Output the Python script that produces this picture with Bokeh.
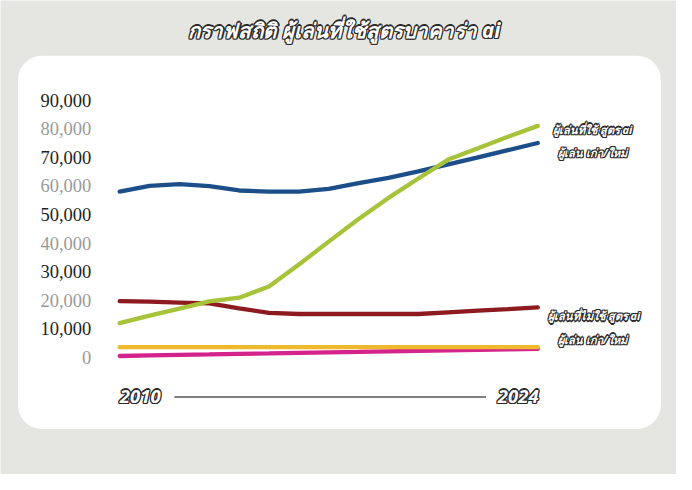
from bokeh.plotting import figure
from bokeh.models import Range1d, Label, LabelSet, ColumnDataSource, BoxAnnotation
from bokeh.core.properties import value
from bokeh.embed import file_html
from bokeh.resources import INLINE

# ---------------- data ----------------
years = [2010, 2011, 2012, 2013, 2014, 2015, 2016, 2017, 2018, 2019, 2020, 2021, 2022, 2023, 2024]
blue_vals = [58000, 60000, 60600, 59900, 58400, 58000, 58000, 59000, 61000, 62800, 65100, 67500, 70000, 72500, 75000]
green_vals = [12000, 14600, 17100, 19600, 20900, 24800, 32500, 40500, 48400, 55800, 62600, 69200, 73200, 77200, 81000]
red_vals = [19700, 19500, 19200, 18900, 17200, 15600, 15200, 15200, 15200, 15200, 15200, 15800, 16400, 16900, 17500]
yellow_vals = [3600, 3600, 3600, 3600, 3600, 3600, 3600, 3600, 3600, 3600, 3600, 3600, 3600, 3600, 3600]
pink_vals = [500, 700, 900, 1050, 1250, 1400, 1600, 1800, 1950, 2150, 2350, 2500, 2700, 2850, 3000]

y_ticks = [0, 10000, 20000, 30000, 40000, 50000, 60000, 70000, 80000, 90000]
y_tick_labels = ["0", "10,000", "20,000", "30,000", "40,000", "50,000", "60,000", "70,000", "80,000", "90,000"]

title_text = "กราฟสถิติ ผู้เล่นที่ใช้สูตรบาคาร่า ai"
label_used = ["ผู้เล่นที่ใช้ สูตร ai", "ผู้เล่น เก่า/ใหม่"]
label_not_used = ["ผู้เล่นที่ไม่ใช้  สูตร ai", "ผู้เล่น เก่า/ใหม่"]
start_label = "2010"
end_label = "2024"

# ---------------- layout helpers (reference pixel -> data) ----------------
W, H = 676, 474
PX_PER_YEAR = (550 - 122) / 14.0
PX_PER_UNIT = (369 - 103) / 90000.0


def dx(X):
    return 2010 + (X - 122) / PX_PER_YEAR


def dy(Y):
    return (369 - Y) / PX_PER_UNIT


p = figure(width=W, height=H, output_backend="svg", toolbar_location=None,
           x_axis_type=None, y_axis_type=None, min_border=0,
           x_range=Range1d(dx(0), dx(692)), y_range=Range1d(dy(490), dy(0)))
p.background_fill_color = "#e5e6e2"
p.border_fill_color = "#e5e6e2"
p.outline_line_color = None
p.xgrid.visible = False
p.ygrid.visible = False

# white rounded panel
panel = BoxAnnotation(left=dx(18), right=dx(676), top=dy(57), bottom=dy(443),
                      fill_color="white", fill_alpha=1.0, line_alpha=0,
                      border_radius=24, level="underlay")
p.add_layout(panel)

# lines
LW = 4.3
p.line(years, pink_vals, line_color="#d4238b", line_width=LW, line_cap="round")
p.line(years, yellow_vals, line_color="#efb92e", line_width=LW, line_cap="round")
p.line(years, red_vals, line_color="#8c1a1f", line_width=LW, line_cap="round")
p.line(years, blue_vals, line_color="#1c4e8a", line_width=LW, line_cap="round")
p.line(years, green_vals, line_color="#a6c33a", line_width=LW, line_cap="round")

# y tick labels (alternating colours)
tick_colors = ["#9a9a9a" if i % 2 == 0 else "#1e1e1e" for i in range(len(y_ticks))]
tick_src = ColumnDataSource(dict(y=y_ticks, text=y_tick_labels, c=tick_colors,
                                 x=[dx(93)] * len(y_ticks)))
p.add_layout(LabelSet(x="x", y="y", text="text", source=tick_src, text_color="c",
                      text_align="right", text_baseline="middle",
                      text_font=value("Liberation Serif"), text_font_size="18.5px"))


def outlined(text, X, Y, size, align="center", font="Noto Sans"):
    offs = [(-1.2, 0), (1.2, 0), (0, -1.2), (0, 1.2), (-1, -1), (1, 1), (-1, 1), (1, -1)]
    for ox, oy in offs:
        p.add_layout(Label(x=dx(X), y=dy(Y), x_offset=ox, y_offset=oy, text=text,
                           text_align=align, text_baseline="middle",
                           text_font=font, text_font_style="bold italic",
                           text_font_size=f"{size}px", text_color="#2a2a2a"))
    p.add_layout(Label(x=dx(X), y=dy(Y), text=text, text_align=align,
                       text_baseline="middle", text_font=font,
                       text_font_style="bold italic", text_font_size=f"{size}px",
                       text_color="white"))


outlined(title_text, 352, 30, 20.5)
outlined(label_used[0], 606, 133, 11)
outlined(label_used[1], 606, 157, 11)
outlined(label_not_used[0], 609, 326, 11)
outlined(label_not_used[1], 606, 350, 11)
outlined(start_label, 143, 409, 18.5)
outlined(end_label, 530, 409, 18.5)

# baseline between 2010 and 2024
p.segment(x0=[dx(178)], y0=[dy(410)], x1=[dx(497)], y1=[dy(410)],
          line_color="#555555", line_width=1.5)

open("out.html", "w").write(file_html(p, INLINE))
